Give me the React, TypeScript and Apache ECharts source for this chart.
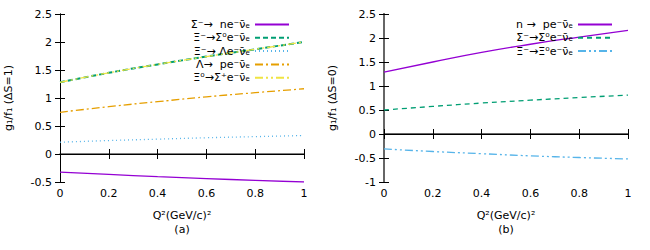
import React, { useEffect, useRef } from 'react';
import * as echarts from 'echarts';

const q2 = [0, 0.2, 0.4, 0.6, 0.8, 1];
// panel (a): ΔS=1
const sigmaMinusToN = [-0.325, -0.365, -0.405, -0.44, -0.47, -0.5];
const xiMinusToSigma0 = [1.28, 1.45, 1.6, 1.74, 1.87, 2.0];
const xiMinusToLambda = [0.21, 0.24, 0.265, 0.29, 0.31, 0.33];
const lambdaToP = [0.745, 0.845, 0.935, 1.02, 1.095, 1.165];
const xi0ToSigmaPlus = [1.28, 1.45, 1.6, 1.74, 1.87, 2.0];
// panel (b): ΔS=0
const nToP = [1.29, 1.5, 1.7, 1.87, 2.02, 2.16];
const sigmaMinusToSigma0 = [0.5, 0.575, 0.645, 0.705, 0.76, 0.81];
const xiMinusToXi0 = [-0.31, -0.365, -0.41, -0.455, -0.49, -0.52];

const namesA = ['Σ⁻→  ne⁻ν̄ₑ', 'Ξ⁻→Σ⁰e⁻ν̄ₑ', 'Ξ⁻→ Λe⁻ν̄ₑ', 'Λ→  pe⁻ν̄ₑ', 'Ξ⁰→Σ⁺e⁻ν̄ₑ'];
const namesB = ['n →  pe⁻ν̄ₑ', 'Σ⁻→Σ⁰e⁻ν̄ₑ', 'Ξ⁻→Ξ⁰e⁻ν̄ₑ'];

const FONT = 'DejaVu Sans';

const pairs = (ys: number[]) => q2.map((x, i) => [x, ys[i]]);

export default function App() {
  const ref = useRef<HTMLDivElement>(null);
  useEffect(() => {
    document.body.style.margin = '0';
    const chart = echarts.init(ref.current!, null, { renderer: 'svg' });
    const txt = { color: '#000', fontFamily: FONT, fontSize: 11 };
    const xMain = (gi: number, title: string, lineColor: string, lineWidth: number) => ({
      type: 'value', gridIndex: gi, min: 0, max: 1, interval: 0.2, position: 'bottom',
      name: title, nameLocation: 'middle', nameGap: 26,
      nameTextStyle: { ...txt, lineHeight: 14 },
      axisLine: { show: true, lineStyle: { color: lineColor, width: lineWidth } },
      axisTick: { show: true, inside: true, length: 5, lineStyle: { color: '#000' } },
      axisLabel: { ...txt, margin: 6 },
      splitLine: { show: false },
    });
    const xMirror = (gi: number, lineColor: string, lineWidth: number) => ({
      type: 'value', gridIndex: gi, min: 0, max: 1, interval: 0.2, position: 'top',
      axisLine: { show: true, lineStyle: { color: lineColor, width: lineWidth } },
      axisTick: { show: true, inside: true, length: 5, lineStyle: { color: '#000' } },
      axisLabel: { show: false }, splitLine: { show: false },
    });
    const yMain = (gi: number, min: number, title: string, lineColor: string, lineWidth: number) => ({
      type: 'value', gridIndex: gi, min, max: 2.5, interval: 0.5, position: 'left',
      name: title, nameLocation: 'middle', nameGap: 46, nameRotate: 90,
      nameTextStyle: { ...txt },
      axisLine: { show: true, lineStyle: { color: lineColor, width: lineWidth } },
      axisTick: { show: true, inside: true, length: 5, lineStyle: { color: '#000' } },
      axisLabel: { ...txt, margin: 8 },
      splitLine: { show: false },
    });
    const yMirror = (gi: number, min: number, lineColor: string, lineWidth: number) => ({
      type: 'value', gridIndex: gi, min, max: 2.5, interval: 0.5, position: 'right',
      axisLine: { show: true, lineStyle: { color: lineColor, width: lineWidth } },
      axisTick: { show: true, inside: true, length: 5, lineStyle: { color: '#000' } },
      axisLabel: { show: false }, splitLine: { show: false },
    });
    const line = (name: string, ys: number[], xi: number, yi: number, color: string, width: number, type: any, z = 2) => ({
      type: 'line', name, data: pairs(ys), xAxisIndex: xi, yAxisIndex: yi,
      smooth: true, showSymbol: false, symbol: 'none', legendIcon: 'none', z,
      lineStyle: { color, width, type },
      itemStyle: { color },
    });
    const legend = (names: string[], right: number) => ({
      data: names, orient: 'vertical', right, top: 18, align: 'right',
      padding: 0, itemWidth: 34, itemHeight: 8, itemGap: 0.3,
      textStyle: { ...txt, lineHeight: 13 },
      itemStyle: { opacity: 0 },
      selectedMode: false,
    });
    chart.setOption({
      animation: false,
      grid: [
        { left: 60, top: 14, width: 244, height: 168 },
        { left: 384, top: 14, width: 244, height: 168 },
      ],
      xAxis: [
        xMain(0, 'Q²(GeV/c)²\n(a)', '#555', 1.5),
        xMirror(0, '#000', 1),
        xMain(1, 'Q²(GeV/c)²\n(b)', '#666', 2),
        xMirror(1, '#000', 1),
      ],
      yAxis: [
        yMain(0, -0.5, 'g₁/f₁ (ΔS=1)', '#000', 1),
        yMirror(0, -0.5, '#000', 1),
        yMain(1, -1, 'g₁/f₁ (ΔS=0)', '#666', 2),
        yMirror(1, -1, '#666', 2),
      ],
      legend: [legend(namesA, 360), legend(namesB, 37)],
      series: [
        line(namesA[0], sigmaMinusToN, 0, 0, '#9400d3', 1.3, 'solid'),
        line(namesA[1], xiMinusToSigma0, 0, 0, '#009e73', 2, [5, 3]),
        line(namesA[2], xiMinusToLambda, 0, 0, '#56b4e9', 1.3, [1, 3]),
        line(namesA[3], lambdaToP, 0, 0, '#e69f00', 1.3, [8, 3, 2, 3]),
        line(namesA[4], xi0ToSigmaPlus, 0, 0, '#f0e442', 1.3, [8, 3, 2, 3, 2, 3], 3),
        line(namesB[0], nToP, 2, 2, '#9400d3', 1.3, 'solid'),
        line(namesB[1], sigmaMinusToSigma0, 2, 2, '#009e73', 1.3, [5, 4]),
        line(namesB[2], xiMinusToXi0, 2, 2, '#56b4e9', 1.3, [8, 3, 2, 3, 2, 3]),
      ],
    });
    return () => chart.dispose();
  }, []);
  return <div ref={ref} style={{ width: 650, height: 250 }} />;
}
